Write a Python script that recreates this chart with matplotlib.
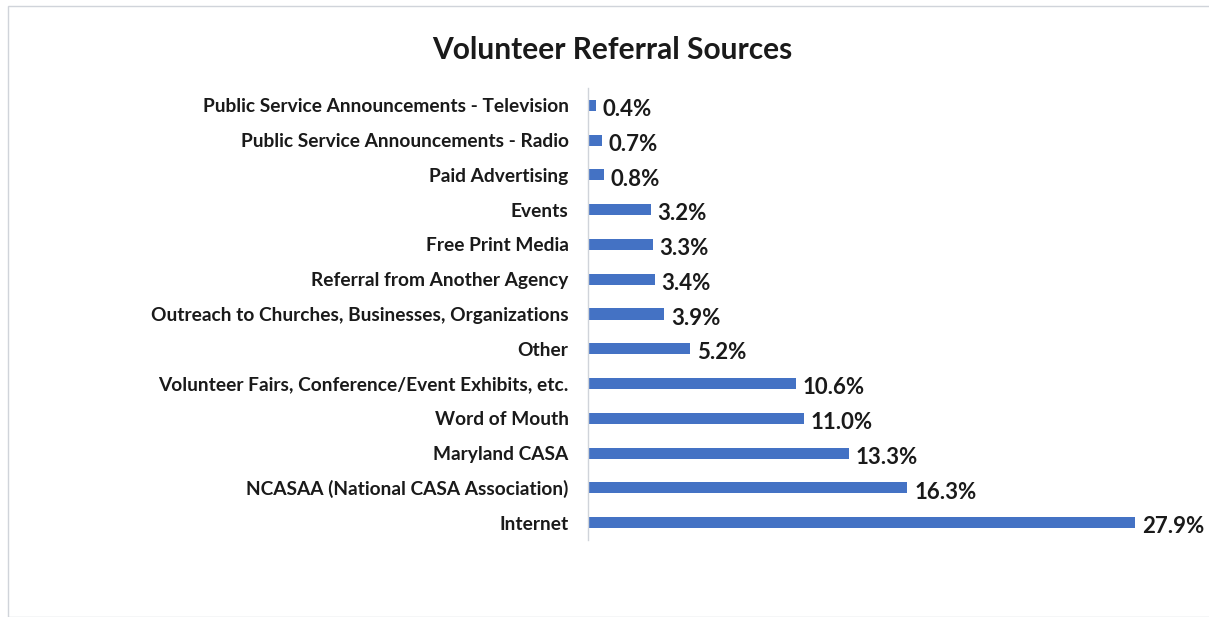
import matplotlib
matplotlib.use("Agg")
import matplotlib.pyplot as plt
from matplotlib.patches import Rectangle

categories = [
    "Internet",
    "NCASAA (National CASA Association)",
    "Maryland CASA",
    "Word of Mouth",
    "Volunteer Fairs, Conference/Event Exhibits, etc.",
    "Other",
    "Outreach to Churches, Businesses, Organizations",
    "Referral from Another Agency",
    "Free Print Media",
    "Events",
    "Paid Advertising",
    "Public Service Announcements - Radio",
    "Public Service Announcements - Television",
]
values = [27.9, 16.3, 13.3, 11.0, 10.6, 5.2, 3.9, 3.4, 3.3, 3.2, 0.8, 0.7, 0.4]
value_labels = [f"{v:.1f}%" for v in values]
title = "Volunteer Referral Sources"

W, H = 1209, 617
fig = plt.figure(figsize=(W / 100, H / 100), dpi=100)
fig.patch.set_facecolor("white")

# outer frame
fig.add_artist(Rectangle((8 / W, 0), 1.2, (H - 6) / H, transform=fig.transFigure,
                         fill=False, edgecolor="#d0d4da", linewidth=1.0))

x0, x1 = 588, 1150
ytop, ybot = 88, 540
ax = fig.add_axes([x0 / W, 1 - ybot / H, (x1 - x0) / W, (ybot - ytop) / H])
ax.set_facecolor("none")

fam = ["Lato", "DejaVu Sans"]
ypos = list(range(len(categories)))
ax.barh(ypos, values, height=0.32, color="#4472C4")
ax.set_xlim(0, (x1 - x0) / 19.6)
ax.set_ylim(-0.5, len(categories) - 0.5)
ax.set_yticks(ypos)
ax.set_yticklabels(categories, fontsize=13.8, fontweight="bold", family=fam, color="#1a1a1a")
ax.tick_params(axis="y", length=0, pad=14)
ax.set_xticks([])
for s in ["top", "right", "bottom"]:
    ax.spines[s].set_visible(False)
ax.spines["left"].set_color("#d0d4da")
ax.spines["left"].set_linewidth(1.0)

for y, v, lab in zip(ypos, values, value_labels):
    ax.annotate(lab, (v, y), xytext=(5, -3), textcoords="offset points",
                ha="left", va="center", fontsize=16, fontweight="bold",
                family=fam, color="#1a1a1a")

fig.text(612 / W, 1 - 50 / H, title, ha="center", va="center", fontsize=21.5,
         fontweight="bold", family=fam, color="#1a1a1a")

fig.savefig("out.png", dpi=100)
